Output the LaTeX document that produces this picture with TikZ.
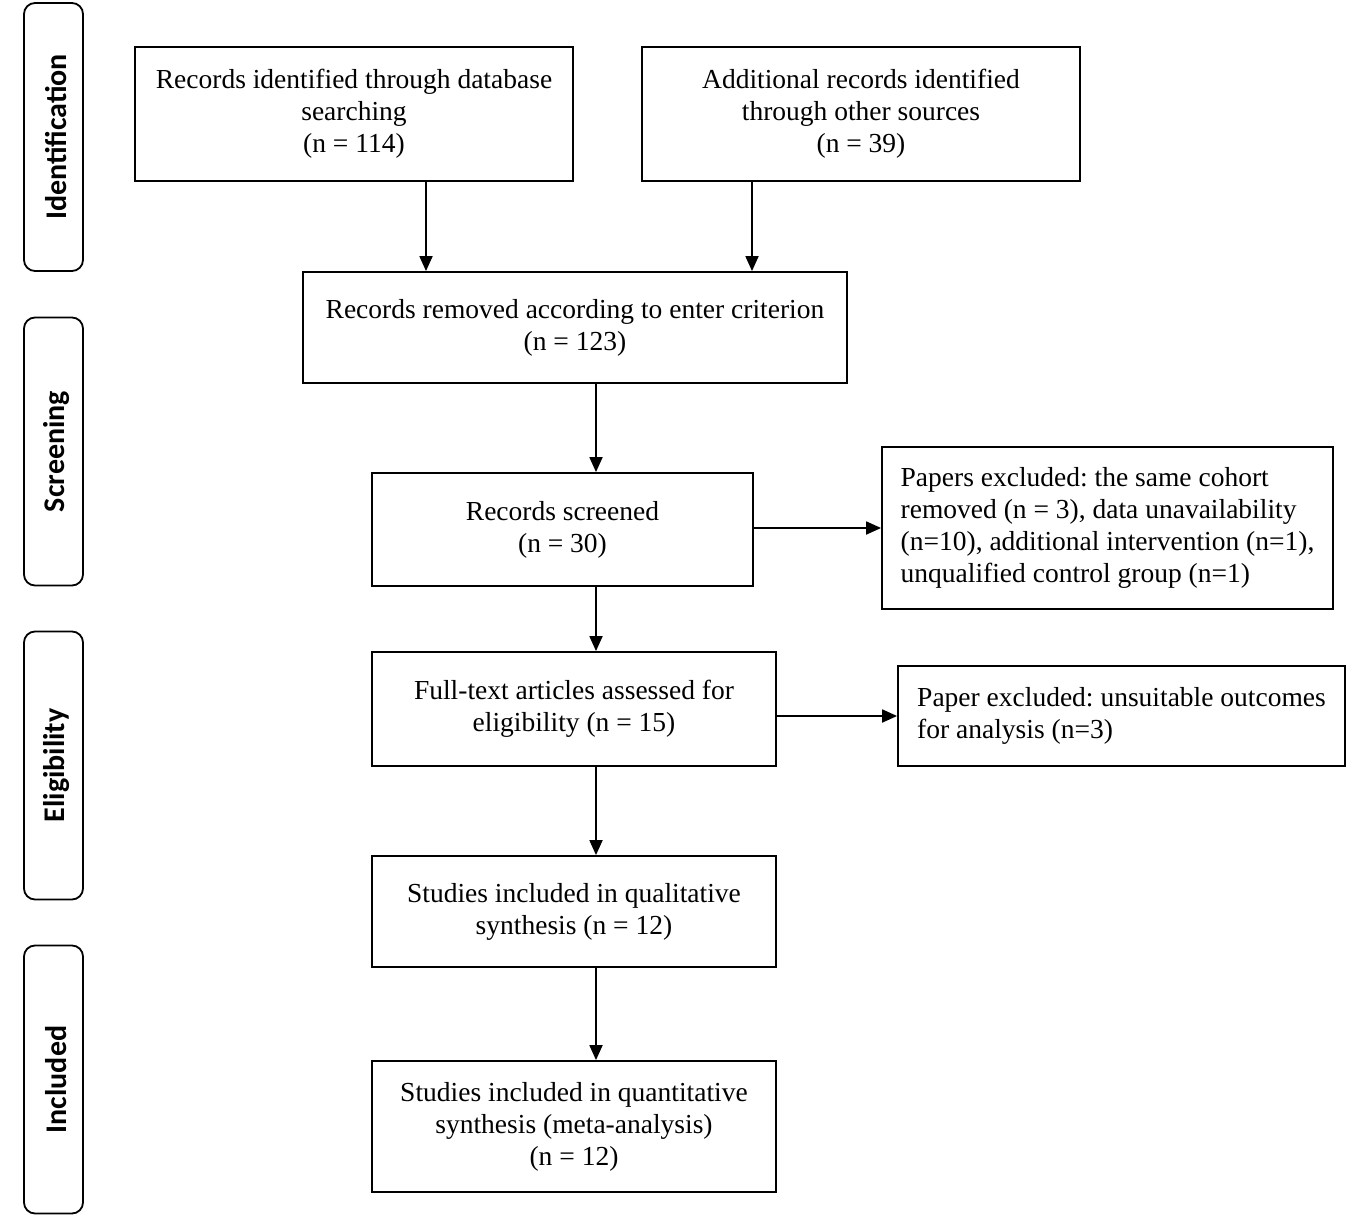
\documentclass[tikz,border=0pt]{standalone}
\usepackage{fontspec}
\setmainfont{Liberation Serif}
\newfontfamily\labfont{Carlito}
\usetikzlibrary{arrows.meta}
\frenchspacing
\begin{document}
\begin{tikzpicture}[x=1pt,y=-1pt,
  box/.style={draw,line width=1.8pt,inner sep=0pt,align=center,font=\fontsize{27.5}{32}\selectfont},
  side/.style={draw,line width=1.8pt,rounded corners=11pt,minimum width=59pt,minimum height=268pt,inner sep=0pt},
  sidetext/.style={rotate=90,font=\labfont\bfseries\fontsize{30}{34}\selectfont},
  arr/.style={line width=1.8pt,-{Triangle[length=15pt,width=13pt]}}]
\useasboundingbox (0,0) rectangle (1358,1223);
% side labels
\node[side] (s1) at (53.5,137) {};
\node[sidetext] (t1) at ([xshift=3pt]s1.center) {Identification};
\node[side] (s2) at (53.5,451.5) {};
\node[sidetext] (t2) at ([xshift=3pt]s2.center) {Screening};
\node[side] (s3) at (53.5,765.5) {};
\node[sidetext] (t3) at ([xshift=3pt]s3.center) {Eligibility};
\node[side] (s4) at (53.5,1079.5) {};
\node[sidetext] (t4) at ([xshift=3pt]s4.center) {Included};
% boxes
\node[box,minimum width=438pt,minimum height=134pt] (b1) at (354,114) {Records identified through database\\searching\\(n = 114)};
\node[box,minimum width=438pt,minimum height=134pt] (b2) at (861,114) {Additional records identified\\through other sources\\(n = 39)};
\node[box,minimum width=544pt,minimum height=111pt] (b3) at (575,327.5) {Records removed according to enter criterion\\(n = 123)};
\node[box,minimum width=381pt,minimum height=113pt] (b4) at (562.5,529.5) {Records screened\\(n = 30)};
\node[box,minimum width=451pt,minimum height=162pt,align=left] (b5) at (1107.5,528) {Papers excluded: the same cohort\\removed (n = 3), data unavailability\\(n=10), additional intervention (n=1),\\unqualified control group (n=1)};
\node[box,minimum width=404pt,minimum height=114pt] (b6) at (574,709) {Full-text articles assessed for\\eligibility (n = 15)};
\node[box,minimum width=447pt,minimum height=100pt,align=left] (b7) at (1121.5,716) {Paper excluded: unsuitable outcomes\\for analysis (n=3)};
\node[box,minimum width=404pt,minimum height=111pt] (b8) at (574,911.5) {Studies included in qualitative\\synthesis (n = 12)};
\node[box,minimum width=404pt,minimum height=131pt] (b9) at (574,1126.5) {Studies included in quantitative\\synthesis (meta-analysis)\\(n = 12)};
% spine coordinates
\coordinate (c1) at (426,0);
\coordinate (c2) at (752,0);
\coordinate (sp) at (596,0);
% connectors
\draw[arr] (b1.south -| c1) -- (b3.north -| c1);
\draw[arr] (b2.south -| c2) -- (b3.north -| c2);
\draw[arr] (b3.south -| sp) -- (b4.north -| sp);
\draw[arr] (b4.east |- b5.west) -- (b5.west);
\draw[arr] (b4.south -| sp) -- (b6.north -| sp);
\draw[arr] (b6.east |- b7.west) -- (b7.west);
\draw[arr] (b6.south -| sp) -- (b8.north -| sp);
\draw[arr] (b8.south -| sp) -- (b9.north -| sp);
\end{tikzpicture}
\end{document}
